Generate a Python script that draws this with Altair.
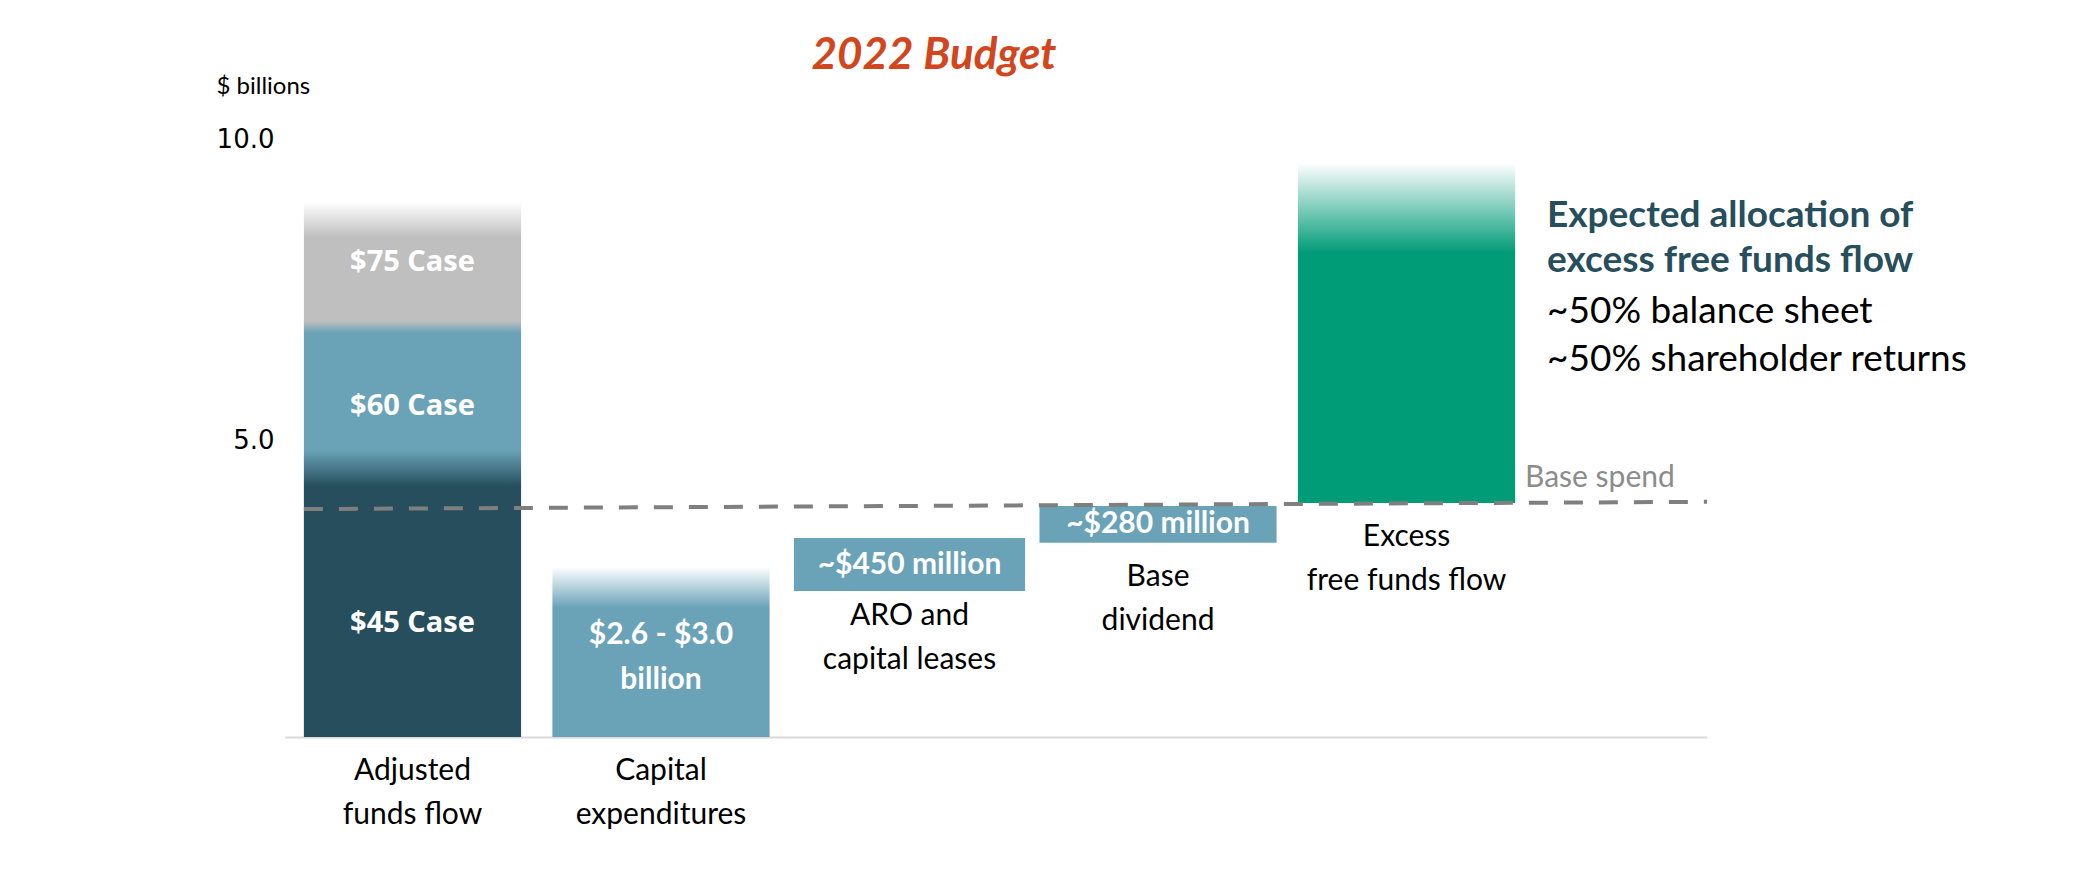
import altair as alt
import pandas as pd

# ---------------- data ----------------
title_text = "2022 Budget"
unit_text = "$ billions"
categories = ["Adjusted\nfunds flow", "Capital\nexpenditures", "ARO and\ncapital leases",
              "Base\ndividend", "Excess\nfree funds flow"]
bar_low = [0.0, 0.0, 2.42, 3.22, 3.88]
bar_high = [8.87, 2.82, 3.30, 3.83, 9.52]
case_names = ["$45 Case", "$60 Case", "$75 Case"]
case_low = [0.0, 4.45, 6.80]
case_high = [4.45, 6.80, 8.87]
value_labels = ["$2.6 - $3.0\nbillion", "~$450 million", "~$280 million"]
base_spend = [3.78, 3.90]          # dashed line, left end / right end
base_spend_label = "Base spend"
y_ticks = [5.0, 10.0]
note_head = "Expected allocation of\nexcess free funds flow"
note_body = "~50% balance sheet\n~50% shareholder returns"

# ---------------- layout / style ----------------
X_DOMAIN = [-0.513, 5.209]
HALF = [0.437, 0.437, 0.465, 0.477, 0.437]
CASE_DY = [20, 8, -3]
VAL_DY = [6, 0, 0]
CAT_DY = [19, 19, 10, 19, 19]
DARK = "#264E5C"
BLUE = "#6AA3B8"
GRAY = "#BFBFBF"
GREEN = "#009B77"
DASH = "#7F7F7F"

xs = alt.Scale(domain=X_DOMAIN, nice=False, zero=False)
ys = alt.Scale(domain=[0, 10], nice=False, zero=False)
x_axis = alt.Axis(labels=False, ticks=False, title=None, grid=False,
                  domainColor="#D9D9D9", domainWidth=2)
y_axis = alt.Axis(values=y_ticks, format=".1f", title=unit_text, titleAngle=0,
                  titleX=-69, titleY=-48, titleAlign="left", titleBaseline="middle",
                  titleFont="Lato", titleFontSize=24, titleFontWeight="normal",
                  titleColor="black", labelFont="DejaVu Sans", labelFontSize=26,
                  labelColor="black", labelPadding=11, labelOffset=5, ticks=False,
                  domain=False, grid=False)


def grad(stops):
    return {"gradient": "linear", "x1": 0, "y1": 0, "x2": 0, "y2": 1,
            "stops": [{"offset": max(0.0, min(1.0, o)), "color": c} for o, c in stops]}


def X(field):
    return alt.X(field, scale=xs, axis=x_axis)


def Y(field):
    return alt.Y(field, scale=ys, axis=y_axis)


def bar(i, color):
    df = pd.DataFrame({"cat": [categories[i]], "x": [i - HALF[i]], "x2": [i + HALF[i]],
                       "lo": [bar_low[i]], "hi": [bar_high[i]]})
    return alt.Chart(df).mark_bar(color=color).encode(
        x=X("x:Q"), x2="x2:Q", y=Y("lo:Q"), y2="hi:Q")


# bar 1: three price cases in one gradient bar
top = bar_high[0]
off = lambda v: (top - v) / top
g1 = grad([(0, "#FFFFFF"), (off(top - 0.58), GRAY),
           (off(case_low[2] + 0.1), GRAY), (off(case_low[2] - 0.1), BLUE),
           (off(case_low[1] + 0.31), BLUE), (off(case_low[1] - 0.30), DARK),
           (1, DARK)])
g2 = grad([(0, "#FFFFFF"), (0.24, BLUE), (1, BLUE)])
g5 = grad([(0, "#FFFFFF"), (0.265, GREEN), (1, GREEN)])

bars = [bar(0, g1), bar(1, g2), bar(2, BLUE), bar(3, BLUE), bar(4, g5)]

# dashed base-spend line
dash_df = pd.DataFrame({"x": [-HALF[0]], "x2": [X_DOMAIN[1]],
                        "y": [base_spend[0]], "y2": [base_spend[1]]})
dash = alt.Chart(dash_df).mark_rule(strokeDash=[19, 16], strokeWidth=4, color=DASH).encode(
    x=X("x:Q"), x2="x2:Q", y=Y("y:Q"), y2="y2:Q")

# case labels inside bar 1
case_layers = []
for k, name in enumerate(case_names):
    df = pd.DataFrame({"name": [name], "mid": [(case_low[k] + case_high[k]) / 2], "x": [0]})
    case_layers.append(alt.Chart(df).mark_text(
        font="Open Sans", fontWeight="bold", fontSize=29, color="white", dy=CASE_DY[k]
    ).encode(x=X("x:Q"), y=Y("mid:Q"), text="name:N"))

# value labels inside bars 2-4 (multi-line block centred on the bar)
val_layers = []
for k, lab in enumerate(value_labels):
    i = k + 1
    n = lab.count("\n")
    df = pd.DataFrame({"label": [lab], "x": [i], "mid": [(bar_low[i] + bar_high[i]) / 2]})
    val_layers.append(alt.Chart(df).mark_text(
        font="Lato", fontWeight="bold", fontSize=30, color="white", lineBreak="\n",
        lineHeight=45, dy=-n * 45 / 2 + VAL_DY[k]
    ).encode(x=X("x:Q"), y=Y("mid:Q"), text="label:N"))

# category labels below each bar
cat_layers = []
for i, cat in enumerate(categories):
    df = pd.DataFrame({"cat": [cat], "x": [i], "lo": [bar_low[i]]})
    cat_layers.append(alt.Chart(df).mark_text(
        font="Lato", fontSize=30, color="black", lineBreak="\n", lineHeight=44,
        baseline="top", dy=CAT_DY[i]
    ).encode(x=X("x:Q"), y=Y("lo:Q"), text="cat:N"))


# free text annotations
def note(text, x, y, **kw):
    return alt.Chart(pd.DataFrame({"t": [text]})).mark_text(lineBreak="\n", **kw).encode(
        text="t:N", x=alt.value(x), y=alt.value(y))


title = note(title_text, 649, -78, font="Lato", fontSize=44, fontWeight="bold",
             fontStyle="italic", color="#D2461E", baseline="middle")
base_lbl = note(base_spend_label, 1240, 344, font="Lato", fontSize=30, color="#8C8C8C",
                align="left", baseline="middle")
head = note(note_head, 1262, 82, font="Lato", fontSize=37, fontWeight="bold",
            color=DARK, align="left", baseline="middle", lineHeight=45)
body = note(note_body, 1262, 178, font="Lato", fontSize=37, color="black",
            align="left", baseline="middle", lineHeight=48)

chart = alt.layer(*bars, dash, *case_layers, *val_layers, *cat_layers, title, base_lbl,
                  head, body).properties(
    width=1422, height=603,
    autosize=alt.AutoSizeParams(type="none"),
    padding={"left": 277, "top": 126, "right": 360, "bottom": 120},
    background="white",
).configure_view(stroke=None)

chart.save("out.html", embed_options={"renderer": "svg", "actions": False})
